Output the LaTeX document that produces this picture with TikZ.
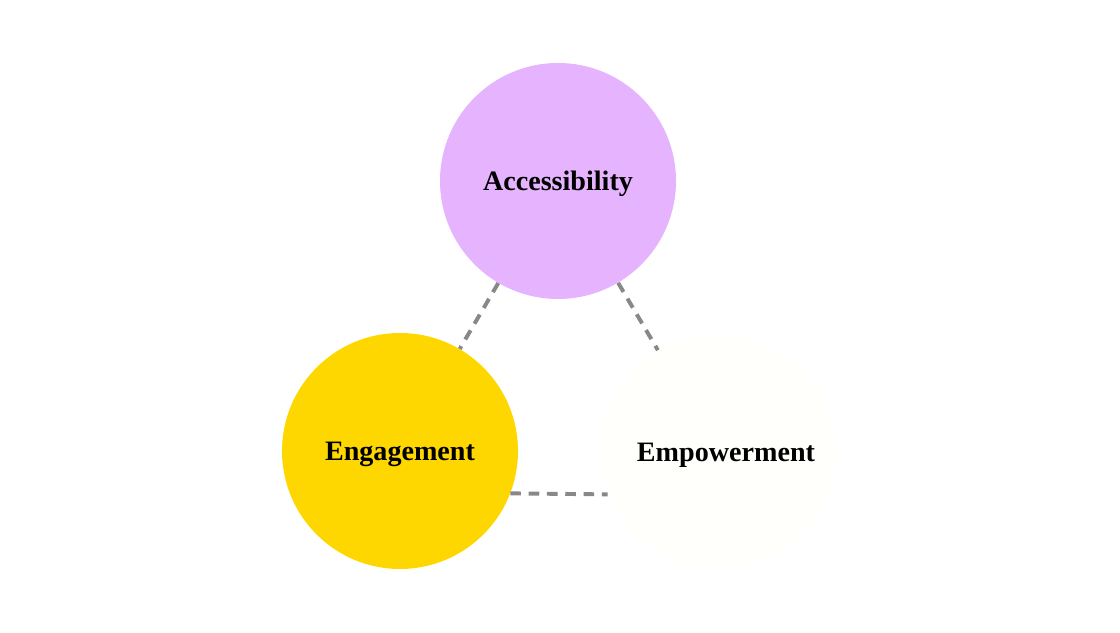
\documentclass[tikz,border=0pt]{standalone}
\usepackage{fontspec}
\setmainfont{Liberation Serif}
\usepackage{tikz}
\usetikzlibrary{positioning}
\usepackage{xcolor}
\definecolor{lilac}{RGB}{230,179,255}
\definecolor{gold}{RGB}{255,215,0}
\definecolor{ivory}{RGB}{255,255,252}
\definecolor{linkgray}{RGB}{136,136,136}

\begin{document}
\begin{tikzpicture}[
  pillar/.style={circle,minimum size=5.9cm,inner sep=0pt,text depth=0pt,
    font=\fontsize{20}{24}\selectfont\bfseries},
  link/.style={draw=linkgray,line width=2.8pt,dash pattern=on 7.5pt off 5.5pt}
]
\useasboundingbox (0,0) rectangle (28,15.825);
\node[pillar,fill=lilac] (access) at (13.95,11.3) {Accessibility};
\node[pillar,fill=gold] (engage) at (10.0,4.55) {Engagement};
\node[pillar,fill=ivory] (empower) at (17.95,4.525) {\hspace*{0.4cm}Empowerment};
\draw[link] (access) -- (engage);
\draw[link] (access) -- (empower);
\draw[link] (engage.-21) -- (empower.201);
\end{tikzpicture}
\end{document}
